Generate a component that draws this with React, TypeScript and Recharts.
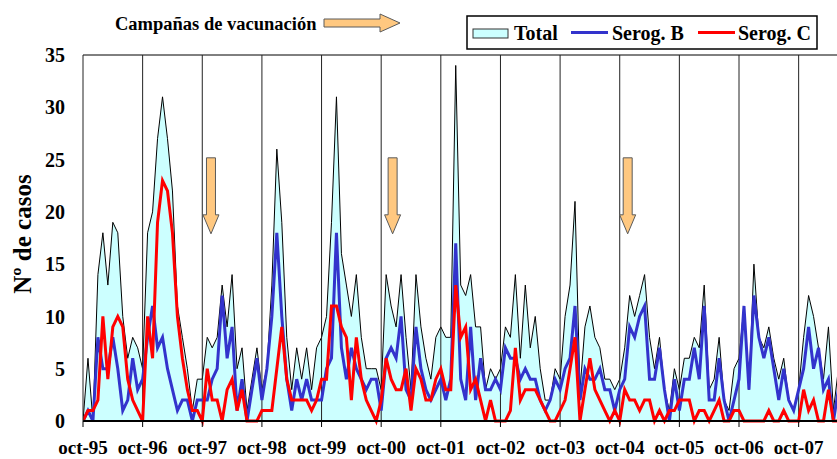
import React from "react";
import {
  ComposedChart,
  Area,
  Line,
  XAxis,
  YAxis,
  ReferenceLine,
  ReferenceDot,
} from "recharts";

// one label per October, every 12 months
const yearLabels = [
  "oct-95", "oct-96", "oct-97", "oct-98", "oct-99", "oct-00", "oct-01",
  "oct-02", "oct-03", "oct-04", "oct-05", "oct-06", "oct-07",
];

// monthly cases, oct-95 .. jun-08
const total = [
  0, 6, 0, 14, 18, 13, 19, 18, 10, 6, 8, 7, 5, 18, 20, 27, 31, 27, 22, 11, 8, 5, 1, 4,
  4, 8, 7, 8, 13, 9, 14, 5, 7, 1, 4, 7, 3, 5, 13, 26, 19, 8, 3, 7, 4, 7, 3, 7,
  8, 10, 19, 31, 16, 13, 10, 14, 8, 5, 5, 5, 3, 14, 11, 9, 14, 8, 3, 14, 9, 6, 4, 8,
  9, 8, 8, 34, 13, 12, 14, 9, 9, 3, 5, 4, 5, 9, 8, 14, 6, 13, 7, 10, 5, 2, 2, 5,
  4, 10, 13, 21, 3, 9, 11, 8, 7, 4, 4, 3, 4, 7, 12, 10, 12, 14, 8, 5, 8, 3, 1, 5,
  3, 6, 6, 8, 7, 13, 3, 4, 8, 2, 1, 5, 6, 11, 3, 15, 8, 7, 9, 6, 4, 6, 2, 1, 3, 8, 12, 10, 7, 4, 9, 1, 5,
];

const serogB = [
  0, 1, 0, 8, 5, 5, 8, 5, 1, 2, 6, 3, 4, 8, 11, 7, 8, 5, 3, 1, 2, 2, 0, 2,
  2, 2, 4, 5, 12, 6, 9, 1, 4, 0, 3, 6, 2, 5, 10, 18, 10, 4, 1, 4, 2, 4, 2, 2,
  2, 5, 6, 18, 7, 4, 7, 5, 4, 3, 4, 4, 1, 6, 7, 6, 10, 3, 2, 9, 5, 3, 2, 3,
  4, 2, 4, 17, 4, 2, 9, 2, 6, 3, 3, 4, 3, 7, 6, 6, 4, 5, 4, 4, 2, 1, 2, 4,
  3, 5, 6, 11, 2, 5, 4, 4, 5, 3, 3, 1, 3, 4, 9, 8, 10, 11, 4, 4, 7, 3, 0, 4,
  1, 4, 4, 7, 4, 11, 2, 2, 6, 2, 0, 2, 4, 11, 3, 12, 8, 6, 8, 5, 2, 5, 2, 1, 3, 5, 9, 5, 7, 3, 4, 0, 3,
];

const serogC = [
  0, 1, 1, 2, 10, 4, 9, 10, 9, 4, 2, 1, 0, 10, 6, 19, 23, 22, 18, 10, 6, 3, 1, 1,
  0, 5, 2, 2, 0, 3, 4, 1, 3, 0, 0, 0, 1, 1, 1, 5, 9, 4, 2, 2, 2, 2, 1, 2,
  4, 4, 11, 11, 9, 8, 2, 8, 4, 2, 1, 0, 2, 6, 4, 3, 3, 5, 1, 5, 4, 2, 2, 4,
  5, 3, 3, 13, 8, 9, 3, 4, 2, 0, 2, 0, 0, 0, 1, 7, 2, 3, 3, 3, 2, 1, 0, 0,
  1, 2, 5, 8, 0, 3, 6, 3, 2, 1, 0, 1, 0, 3, 2, 2, 1, 2, 2, 0, 1, 0, 1, 1,
  2, 2, 2, 0, 1, 1, 0, 1, 2, 0, 0, 1, 1, 0, 0, 0, 0, 0, 1, 0, 0, 1, 0, 0, 0, 3, 1, 2, 0, 0, 3, 0, 0,
];

const yTicks = [0, 5, 10, 15, 20, 25, 30, 35];

// vaccination campaign arrows (month index, value at the arrow tip)
const campaignMonths = [25.75, 62.3, 109.6];
const arrowTip = 17.9;

const data = total.map((t, i) => ({
  month: i,
  total: t,
  serogB: serogB[i],
  serogC: serogC[i],
}));

const xTicks = yearLabels.map((_, k) => k * 12);

const FONT = "'Liberation Serif', 'Times New Roman', serif";
const yTickStyle = { fontSize: 20, fontWeight: 700, fill: "#000", fontFamily: FONT };
const xTickStyle = { fontSize: 19, fontWeight: 700, fill: "#000", fontFamily: FONT };

function DownArrow(props: any) {
  const { cx, cy } = props;
  const shaftW = 9;
  const headW = 16;
  const headH = 19;
  const len = 76;
  const top = cy - len;
  const neck = cy - headH;
  const d = `M${cx - shaftW / 2},${top} H${cx + shaftW / 2} V${neck} H${cx + headW / 2} L${cx},${cy} L${cx - headW / 2},${neck} H${cx - shaftW / 2} Z`;
  return <path d={d} fill="#FFC880" stroke="#5a5a5a" strokeWidth={1} />;
}

function Overlay() {
  return (
    <svg
      width={837}
      height={459}
      style={{ position: "absolute", left: 0, top: 0, pointerEvents: "none" }}
      fontFamily={FONT}
      fontWeight={700}
    >
      {/* title with arrow */}
      <text x={115} y={30} fontSize={18.5} fill="#000">
        Campañas de vacunación
      </text>
      <path
        d="M324,19 H380 V14 L400,23 L380,32 V27 H324 Z"
        fill="#FFC880"
        stroke="#5a5a5a"
        strokeWidth={1}
      />

      {/* legend */}
      <rect x={467} y={16} width={350} height={33} fill="#fff" stroke="#000" strokeWidth={1.5} />
      <rect x={473} y={29} width={35} height={9} fill="#CCFFFF" stroke="#333" strokeWidth={1} />
      <text x={514} y={40} fontSize={20} fill="#000">Total</text>
      <line x1={571} y1={32.5} x2={608} y2={32.5} stroke="#3333CC" strokeWidth={3} />
      <text x={612} y={40} fontSize={20} fill="#000">Serog. B</text>
      <line x1={698} y1={32.5} x2={735} y2={32.5} stroke="#FF0000" strokeWidth={3} />
      <text x={738} y={40} fontSize={20} fill="#000">Serog. C</text>

      {/* y axis title */}
      <text
        transform="translate(31,234) rotate(-90)"
        textAnchor="middle"
        fontSize={25}
        fill="#000"
      >
        Nº de casos
      </text>
    </svg>
  );
}

export default function App() {
  return (
    <div
      style={{
        position: "absolute",
        left: 0,
        top: 0,
        width: 837,
        height: 459,
        overflow: "hidden",
        background: "#fff",
      }}
    >
      <ComposedChart
        width={860}
        height={459}
        data={data}
        margin={{ top: 55, right: 21.6, bottom: 0, left: 0 }}
      >
        <XAxis
          dataKey="month"
          type="number"
          domain={[0, 152]}
          ticks={xTicks}
          interval={0}
          tickFormatter={(v: number) => yearLabels[Math.round(v / 12)]}
          height={38}
          axisLine={{ stroke: "#000", strokeWidth: 2 }}
          tickLine={{ stroke: "#000" }}
          tickSize={6}
          tickMargin={14}
          tick={xTickStyle}
          allowDataOverflow
        />
        <YAxis
          type="number"
          domain={[0, 35]}
          ticks={yTicks}
          interval={0}
          width={83}
          axisLine={{ stroke: "#222" }}
          tickLine={false}
          tickMargin={12}
          tick={yTickStyle}
        />
        <Area
          type="linear"
          dataKey="total"
          stroke="#000"
          strokeWidth={1}
          fill="#CCFFFF"
          fillOpacity={1}
          dot={false}
          activeDot={false}
          isAnimationActive={false}
        />
        <ReferenceLine y={35} stroke="#000" strokeWidth={1} />
        {xTicks.slice(1).map((t) => (
          <ReferenceLine key={t} x={t} stroke="#222" strokeWidth={1} />
        ))}
        <Line
          type="linear"
          dataKey="serogB"
          stroke="#3333CC"
          strokeWidth={3}
          dot={false}
          activeDot={false}
          isAnimationActive={false}
        />
        <Line
          type="linear"
          dataKey="serogC"
          stroke="#FF0000"
          strokeWidth={3}
          dot={false}
          activeDot={false}
          isAnimationActive={false}
        />
        {campaignMonths.map((m) => (
          <ReferenceDot key={m} x={m} y={arrowTip} shape={DownArrow} />
        ))}
      </ComposedChart>
      <Overlay />
    </div>
  );
}
